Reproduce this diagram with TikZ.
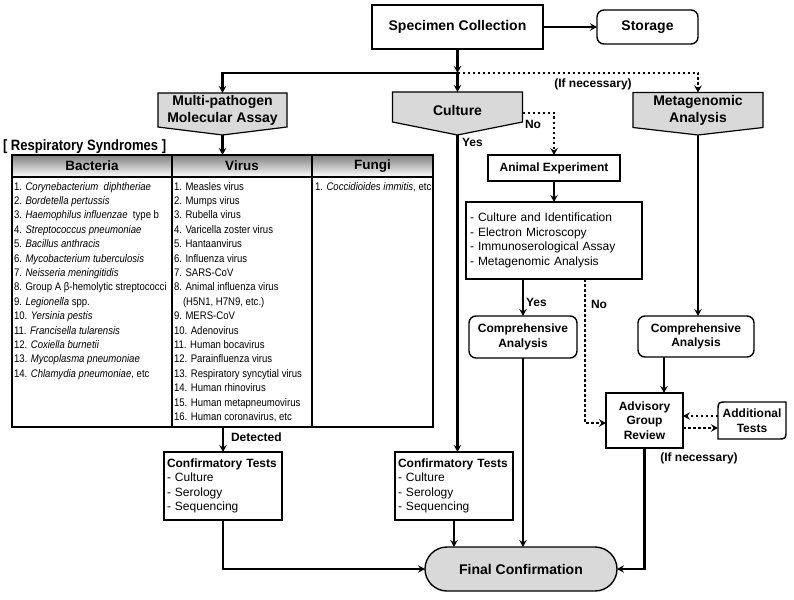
\documentclass[tikz,border=0pt]{standalone}
\usepackage{fontspec}
\setmainfont{Liberation Sans}
\newfontfamily\narrowfont[FakeStretch=0.87]{Liberation Sans}
\usetikzlibrary{arrows.meta,calc}
\definecolor{shade}{HTML}{D9D9D9}
\pgfdeclarelayer{bg}
\pgfsetlayers{bg,main}
\begin{document}
\begin{tikzpicture}[x=1pt,y=-1pt,
  >={Stealth[length=7pt,width=7.5pt,inset=2.5pt]},
  every node/.style={inner sep=0pt, outer sep=0pt},
  box/.style={draw, line width=1.4pt, fill=white, align=center},
  rbox/.style={box, rounded corners=7pt},
  pent/.style={draw, line width=1.2pt, fill=shade},
  hfont/.style={font=\bfseries\fontsize{14}{17}\selectfont},
  mfont/.style={font=\bfseries\fontsize{12}{14.5}\selectfont},
  lfont/.style={font=\fontsize{12}{14.5}\selectfont},
  tfont/.style={font=\narrowfont\fontsize{11}{13}\selectfont},
  hdr/.style={font=\bfseries\fontsize{13.5}{15}\selectfont},
  lbl/.style={font=\bfseries\fontsize{12}{14}\selectfont},
  flow/.style={line width=2.5pt, ->},
  dflow/.style={line width=2.5pt, dash pattern=on 2.5pt off 2.5pt, ->},
  tline/.style={line width=1.2pt}
]
\useasboundingbox (0,0) rectangle (794,599);

% ---- top ----
\node[box, hfont, minimum width=171pt, minimum height=44pt] (spec) at (457.5,27) {Specimen Collection};
\node[rbox, hfont, minimum width=101pt, minimum height=34pt] (stor) at (647.5,27) {Storage};
\coordinate (j) at (457.5,73);

% ---- pentagons ----
\node[hfont, align=center, minimum width=129pt, minimum height=34pt] (mp) at (222.5,110) {Multi-pathogen\\Molecular Assay};
\coordinate (mptip) at (222.5,135);
\node[hfont, minimum width=130pt, minimum height=36pt] (cu) at (457.5,110) {Culture};
\coordinate (cutip) at (457.5,135);
\node[hfont, align=center, minimum width=130pt, minimum height=35pt] (mg) at (698,110) {Metagenomic\\Analysis};
\coordinate (mgtip) at (698,135);
\begin{pgfonlayer}{bg}
\draw[pent] (mp.north west) -- (mp.north east) -- (mp.south east) -- (mptip) -- (mp.south west) -- cycle;
\draw[pent] (cu.north west) -- (cu.north east) -- ([yshift=6pt]cu.south east) -- (cutip) -- ([yshift=6pt]cu.south west) -- cycle;
\draw[pent] (mg.north west) -- (mg.north east) -- (mg.south east) -- (mgtip) -- (mg.south west) -- cycle;
\end{pgfonlayer}

% ---- table ----
\node[anchor=base west, font=\narrowfont\bfseries\fontsize{15}{17}\selectfont] (ttl) at (3,150.5) {[ Respiratory Syndromes ]};
\node[minimum width=421pt, minimum height=272pt] (tbl) at (222.5,291) {};
\fill[shade] (tbl.north west) rectangle (433,177);
\draw[tline] (tbl.north west) rectangle (tbl.south east);
\draw[tline] (12,177) -- (433,177);
\draw[tline] (172,155) -- (172,427);
\draw[tline] (312,155) -- (312,427);
\node[hdr] (hb) at (92,166) {Bacteria};
\node[hdr] (hv) at (242,166) {Virus};
\node[hdr] (hf) at (372.5,166) {Fungi};

\foreach [count=\i] \t in {
  {1. \textit{Corynebacterium\ \ diphtheriae}},
  {2. \textit{Bordetella pertussis}},
  {3. \textit{Haemophilus influenzae}\ \ type b},
  {4. \textit{Streptococcus pneumoniae}},
  {5. \textit{Bacillus anthracis}},
  {6. \textit{Mycobacterium tuberculosis}},
  {7. \textit{Neisseria meningitidis}},
  {8. Group A β-hemolytic streptococci},
  {9. \textit{Legionella} spp.},
  {10. \textit{Yersinia pestis}},
  {11. \textit{Francisella tularensis}},
  {12. \textit{Coxiella burnetii}},
  {13. \textit{Mycoplasma pneumoniae}},
  {14. \textit{Chlamydia pneumoniae}, etc}}
  \node[tfont, anchor=base west] (bac\i) at (14,{190+14.4*(\i-1)}) {\t};

\foreach [count=\i] \t in {
  {1. Measles virus},
  {2. Mumps virus},
  {3. Rubella virus},
  {4. Varicella zoster virus},
  {5. Hantaanvirus},
  {6. Influenza virus},
  {7. SARS-CoV},
  {8. Animal influenza virus},
  {\hspace*{9pt}(H5N1, H7N9, etc.)},
  {9. MERS-CoV},
  {10. Adenovirus},
  {11. Human bocavirus},
  {12. Parainfluenza virus},
  {13. Respiratory syncytial virus},
  {14. Human rhinovirus},
  {15. Human metapneumovirus},
  {16. Human coronavirus, etc}}
  \node[tfont, anchor=base west] (vir\i) at (174,{190+14.4*(\i-1)}) {\t};

\node[tfont, anchor=base west] (fun1) at (315,190) {1. \textit{Coccidioides immitis}, etc};

% ---- middle / right boxes ----
\node[box, mfont, minimum width=132pt, minimum height=26pt] (anim) at (554,168) {Animal Experiment};
\node[box, lfont, align=left, text width=168pt, inner xsep=4pt, minimum height=77pt] (lst) at (554,240.5)
  {- Culture and Identification\\- Electron Microscopy\\- Immunoserological Assay\\- Metagenomic Analysis};
\node[rbox, mfont, minimum width=108pt, minimum height=42pt] (comp1) at (523,337) {Comprehensive\\Analysis};
\node[rbox, mfont, minimum width=116pt, minimum height=41pt] (comp2) at (696,336.5) {Comprehensive\\Analysis};
\node[box, mfont, line width=1.8pt, minimum width=77pt, minimum height=55pt] (adv) at (644.5,420.5) {Advisory\\Group\\Review};
\node[mfont, align=center, minimum width=68pt, minimum height=37pt] (addl) at (752,420.5) {Additional\\Tests};
\begin{pgfonlayer}{bg}
\draw[line width=1.4pt, fill=white] ([yshift=-9pt]addl.north west) .. controls (addl.north west) .. ([xshift=9pt]addl.north west)
  -- (addl.north east) -- ([yshift=9pt]addl.south east) .. controls (addl.south east) .. ([xshift=-9pt]addl.south east)
  -- (addl.south west) -- cycle;
\end{pgfonlayer}

% ---- bottom boxes ----
\node[box, lfont, align=left, text width=112pt, inner xsep=3pt, minimum height=68pt] (conf1) at (223,486)
  {\textbf{Confirmatory Tests}\\- Culture\\- Serology\\- Sequencing};
\node[box, lfont, align=left, text width=112pt, inner xsep=3pt, minimum height=68pt] (conf2) at (454,486)
  {\textbf{Confirmatory Tests}\\- Culture\\- Serology\\- Sequencing};
\node[draw, line width=1.4pt, fill=shade, rounded corners=22pt, hfont, minimum width=192pt, minimum height=44pt] (fin) at (521,569) {Final Confirmation};

% ---- connectors ----
\draw[flow] (spec.east) -- (stor.west);
\draw[flow] (spec.south) -- (j);
\draw[flow] (j) -| (mp.north);
\draw[flow] (j) -- (cu.north);
\draw[dflow] (j) -| (mg.north);
\node[lbl] (ifn1) at (593,84) {(If necessary)};

\draw[flow] (mptip) -- (mptip |- tbl.north);
\draw[flow] (tbl.south -| conf1.north) -- (conf1.north);
\node[lbl, anchor=west] (det) at (231,437) {Detected};

\draw[dflow] ([yshift=-3pt]cu.east) -| (anim.north);
\node[lbl, anchor=west] (no1) at (525,124) {No};
\draw[flow] (cutip) -- (cutip |- conf2.north);
\node[lbl, anchor=west] (yes1) at (462,142) {Yes};

\draw[flow] (anim.south) -- (lst.north);
\draw[flow] (lst.south -| comp1.north) -- (comp1.north);
\node[lbl, anchor=west] (yes2) at (526,302) {Yes};
\draw[dflow] ([xshift=31pt]lst.south) |- ([yshift=-2.5pt]adv.west);
\node[lbl, anchor=west] (no2) at (591,304) {No};

\draw[flow] (mgtip) -- (mgtip |- comp2.north);
\draw[flow] ([xshift=-32pt]comp2.south) -- ([xshift=-32pt]comp2.south |- adv.north);

\draw[dflow] ([yshift=4.5pt]addl.west) -- ([yshift=4.5pt]addl.west -| adv.east);
\draw[dflow] ([yshift=-7.5pt]adv.east) -- ([yshift=-7.5pt]adv.east -| addl.west);
\node[lbl] (ifn2) at (699,458) {(If necessary)};

\draw[flow] (conf1.south) |- (fin.west);
\draw[flow] (conf2.south) -- (conf2.south |- fin.north);
\draw[flow] (comp1.south) -- (comp1.south |- fin.north);
\draw[flow] (adv.south) |- (fin.east);
\end{tikzpicture}
\end{document}
